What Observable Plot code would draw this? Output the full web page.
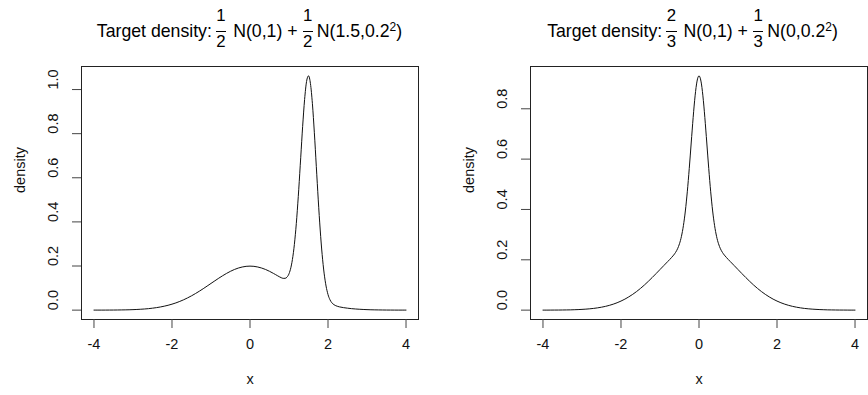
<!DOCTYPE html>
<html>
<head>
<meta charset="utf-8">
<script src="https://cdn.jsdelivr.net/npm/d3@7"></script>
<script src="https://cdn.jsdelivr.net/npm/@observablehq/plot@0.6"></script>
<style>
  body { margin: 0; background: #fff; }
  #wrap { position: relative; width: 868px; height: 395px; overflow: hidden; background: #fff;
          font-family: "Liberation Sans", Arial, sans-serif; color: #000; }
  .panel { position: absolute; top: 0; }
  .title { position: absolute; top: 0; height: 60px; display: flex; justify-content: center;
           align-items: flex-start; font-size: 17.7px; line-height: 1; white-space: pre; }
  .title .t { margin-top: 23.2px; }
  .frac { display: inline-flex; flex-direction: column; align-items: center; margin-top: 7.5px; font-size: 16.8px; }
  .frac .num { border-bottom: 1px solid #000; padding: 0 0.5px 7px 0.5px; }
  .frac .den { padding-top: 2.2px; }
  .title sup { font-size: 12px; line-height: 0; vertical-align: 6.5px; }
</style>
</head>
<body>
<div id="wrap">
  <div class="panel" id="p1" style="left:0px;width:434px;height:395px"></div>
  <div class="panel" id="p2" style="left:449px;width:419px;height:395px"></div>
  <div class="title" style="left:81px;width:337px">
    <span class="t" style="margin-right:4px">Target density:</span><span class="frac"><span class="num">1</span><span class="den">2</span></span><span class="t" style="margin-left:7px">N(0,1) + </span><span class="frac"><span class="num">1</span><span class="den">2</span></span><span class="t" style="margin-left:4px">N(1.5,0.2<sup>2</sup>)</span>
  </div>
  <div class="title" style="left:524px;width:337px">
    <span class="t" style="margin-right:4px">Target density:</span><span class="frac"><span class="num">2</span><span class="den">3</span></span><span class="t" style="margin-left:7px">N(0,1) + </span><span class="frac"><span class="num">1</span><span class="den">3</span></span><span class="t" style="margin-left:4px">N(0,0.2<sup>2</sup>)</span>
  </div>
</div>
<script>
// Tick values
const xTicks = [-4, -2, 0, 2, 4];
const leftYTicks = [0, 0.2, 0.4, 0.6, 0.8, 1.0];
const rightYTicks = [0, 0.2, 0.4, 0.6, 0.8];

// Left panel: 1/2 N(0,1) + 1/2 N(1.5, 0.2^2)
const leftX = [
  -4.0, -3.9, -3.8, -3.7, -3.6, -3.5, -3.4, -3.3, -3.2, -3.1,
  -3.0, -2.9, -2.8, -2.7, -2.6, -2.5, -2.4, -2.3, -2.2, -2.1,
  -2.0, -1.9, -1.8, -1.7, -1.6, -1.5, -1.4, -1.3, -1.2, -1.1,
  -1.0, -0.9, -0.8, -0.7, -0.6, -0.5, -0.4, -0.3, -0.2, -0.1,
  0.0, 0.1, 0.2, 0.3, 0.4, 0.5, 0.6,
  0.65, 0.7, 0.75, 0.8, 0.85, 0.9, 0.95, 1.0, 1.05, 1.1,
  1.15, 1.2, 1.25, 1.3, 1.35, 1.4, 1.45, 1.5, 1.55, 1.6,
  1.65, 1.7, 1.75, 1.8, 1.85, 1.9, 1.95, 2.0, 2.05, 2.1,
  2.15, 2.2, 2.25, 2.3,
  2.4, 2.5, 2.6, 2.7, 2.8, 2.9, 3.0, 3.1, 3.2, 3.3,
  3.4, 3.5, 3.6, 3.7, 3.8, 3.9, 4.0
];
const leftDensity = [
  0.0001, 0.0001, 0.0001, 0.0002, 0.0003, 0.0004, 0.0006, 0.0009, 0.0012, 0.0016,
  0.0022, 0.0030, 0.0040, 0.0052, 0.0068, 0.0088, 0.0112, 0.0142, 0.0178, 0.0220,
  0.0270, 0.0328, 0.0395, 0.0470, 0.0555, 0.0648, 0.0749, 0.0857, 0.0971, 0.1090,
  0.1210, 0.1330, 0.1448, 0.1561, 0.1666, 0.1760, 0.1842, 0.1907, 0.1955, 0.1985,
  0.1995, 0.1985, 0.1955, 0.1907, 0.1842, 0.1760, 0.1666,
  0.1616, 0.1565, 0.1515, 0.1471, 0.1441, 0.1442, 0.1498, 0.1648, 0.1944, 0.2440,
  0.3187, 0.4209, 0.5479, 0.6906, 0.8331, 0.9551, 1.0364, 1.0622, 1.0267, 0.9357,
  0.8041, 0.6519, 0.4998, 0.3633, 0.2518, 0.1678, 0.1092, 0.0708, 0.0471, 0.0331,
  0.0249, 0.0200, 0.0168, 0.0145,
  0.0112, 0.0088, 0.0068, 0.0052, 0.0040, 0.0030, 0.0022, 0.0016, 0.0012, 0.0009,
  0.0006, 0.0004, 0.0003, 0.0002, 0.0001, 0.0001, 0.0001
];

// Right panel: 2/3 N(0,1) + 1/3 N(0, 0.2^2)
const rightX = [
  -4.0, -3.9, -3.8, -3.7, -3.6, -3.5, -3.4, -3.3, -3.2, -3.1,
  -3.0, -2.9, -2.8, -2.7, -2.6, -2.5, -2.4, -2.3, -2.2, -2.1,
  -2.0, -1.9, -1.8, -1.7, -1.6, -1.5, -1.4, -1.3, -1.2, -1.1,
  -1.0, -0.9, -0.8,
  -0.75, -0.7, -0.65, -0.6, -0.55, -0.5, -0.45, -0.4, -0.35, -0.3,
  -0.25, -0.2, -0.15, -0.1, -0.05, 0.0, 0.05, 0.1, 0.15, 0.2,
  0.25, 0.3, 0.35, 0.4, 0.45, 0.5, 0.55, 0.6, 0.65, 0.7, 0.75,
  0.8, 0.9, 1.0, 1.1, 1.2, 1.3, 1.4, 1.5, 1.6, 1.7,
  1.8, 1.9, 2.0, 2.1, 2.2, 2.3, 2.4, 2.5, 2.6, 2.7,
  2.8, 2.9, 3.0, 3.1, 3.2, 3.3, 3.4, 3.5, 3.6, 3.7,
  3.8, 3.9, 4.0
];
const rightDensity = [
  0.0001, 0.0001, 0.0002, 0.0003, 0.0004, 0.0006, 0.0008, 0.0011, 0.0016, 0.0022,
  0.0030, 0.0040, 0.0053, 0.0069, 0.0091, 0.0117, 0.0149, 0.0189, 0.0237, 0.0293,
  0.0360, 0.0437, 0.0527, 0.0627, 0.0739, 0.0863, 0.0998, 0.1143, 0.1295, 0.1453,
  0.1613, 0.1774, 0.1933,
  0.2013, 0.2097, 0.2187, 0.2295, 0.2438, 0.2639, 0.2932, 0.3355, 0.3939, 0.4702,
  0.5622, 0.6640, 0.7649, 0.8515, 0.9101, 0.9309, 0.9101, 0.8515, 0.7649, 0.6640,
  0.5622, 0.4702, 0.3939, 0.3355, 0.2932, 0.2639, 0.2438, 0.2295, 0.2187, 0.2097, 0.2013,
  0.1933, 0.1774, 0.1613, 0.1453, 0.1295, 0.1143, 0.0998, 0.0863, 0.0739, 0.0627,
  0.0527, 0.0437, 0.0360, 0.0293, 0.0237, 0.0189, 0.0149, 0.0117, 0.0091, 0.0069,
  0.0053, 0.0040, 0.0030, 0.0022, 0.0016, 0.0011, 0.0008, 0.0006, 0.0004, 0.0003,
  0.0002, 0.0001, 0.0001
];

function panel(xs, ys, yTicks, yDomain, width, marginRight) {
  const data = xs.map((x, i) => ({x, y: ys[i]}));
  return Plot.plot({
    width, height: 395,
    marginLeft: 81, marginRight, marginTop: 66, marginBottom: 76,
    x: {domain: [-4.32, 4.32]},
    y: {domain: yDomain},
    style: {fontFamily: '"Liberation Sans", Arial, sans-serif', fontSize: "14.5px", background: "white", color: "black", overflow: "visible"},
    marks: [
      Plot.frame({stroke: "#222"}),
      Plot.axisX({ticks: xTicks, tickSize: 9, tickFormat: () => "", label: null, stroke: "#444"}),
      Plot.axisY({ticks: yTicks, tickSize: 9, tickFormat: () => "", label: null, stroke: "#444"}),
      Plot.text(xTicks, {x: d => d, text: d => String(d), frameAnchor: "bottom", dy: 29, fontSize: 14.5, fill: "#111"}),
      Plot.text(yTicks, {y: d => d, text: d => d.toFixed(1), frameAnchor: "left", dx: -28, rotate: -90, fontSize: 14.5, fill: "#111"}),
      Plot.text(["x"], {frameAnchor: "bottom", dy: 64, fontSize: 14.5, fill: "#111"}),
      Plot.text(["density"], {frameAnchor: "left", dx: -61, rotate: -90, fontSize: 14.5, fill: "#111"}),
      Plot.line(data, {x: "x", y: "y", curve: "monotone-x", stroke: "#111", strokeWidth: 1})
    ]
  });
}

document.getElementById("p1").appendChild(panel(leftX, leftDensity, leftYTicks, [-0.0425, 1.1045], 434, 16));
document.getElementById("p2").appendChild(panel(rightX, rightDensity, rightYTicks, [-0.0372, 0.968], 419, 1));
</script>
</body>
</html>
